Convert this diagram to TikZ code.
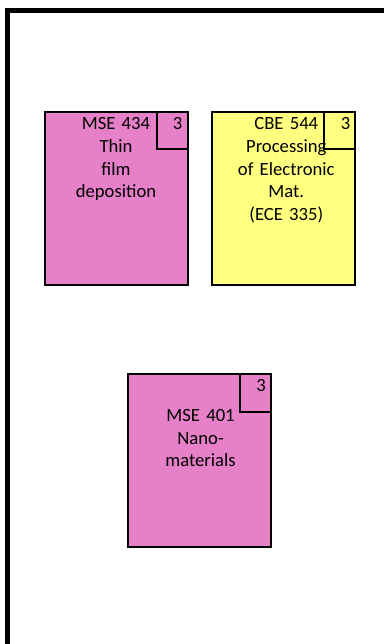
\documentclass[tikz,border=0pt]{standalone}
\usepackage{fontspec}
\setmainfont{Carlito}
\usetikzlibrary{positioning}

\definecolor{coursepink}{RGB}{230,128,200}
\definecolor{courseyellow}{RGB}{255,255,128}

\tikzset{every picture/.style={line width=0.75pt}}
\tikzset{
  course/.style={draw, line width=1.5pt, outer sep=0pt, inner sep=0pt,
    minimum width=107.25pt, minimum height=129.75pt},
  credit/.style={draw, line width=1.5pt, outer sep=0pt, inner sep=0pt,
    minimum width=23.25pt, minimum height=28.1pt, anchor=north east},
  num/.style={inner sep=0pt, anchor=base east, font=\fontsize{14}{17}\selectfont},
  title/.style={inner sep=0pt, anchor=north, text width=100pt, align=center,
    font=\fontsize{14}{17}\selectfont}
}

\begin{document}
\begin{tikzpicture}[x=0.75pt,y=0.75pt,yscale=-1,xscale=1]
\useasboundingbox (0,0) rectangle (384,644);

%Straight Lines: frame
\draw [line width=3.75pt] (7.5,650) -- (7.5,10.8) -- (390,10.8) ;

%Shape: Rectangle
\node (mse434) [course, fill=coursepink] at (116,198.4) {};
\node (mse434cr) [credit] at (mse434.north east) {};
%Shape: Rectangle
\node (cbe544) [course, fill=courseyellow] at (283.9,198.5) {};
\node (cbe544cr) [credit] at (cbe544.north east) {};
%Shape: Rectangle
\node (mse401) [course, fill=coursepink] at (199.5,460.8) {};
\node (mse401cr) [credit] at (mse401.north east) {};

% Text Node
\node (mse434t) [title] at ([yshift=4pt]mse434.north) {MSE 434\\Thin\\film\\deposition};
\node (mse434n) [num] at ([xshift=-3.5pt,yshift=13pt]mse434.north east) {3};
% Text Node
\node (cbe544t) [title] at ([xshift=1.8pt,yshift=4pt]cbe544.north) {CBE 544\\Processing\\of Electronic\\Mat.\\(ECE 335)};
\node (cbe544n) [num] at ([xshift=-3.5pt,yshift=13pt]cbe544.north east) {3};
% Text Node
\node (mse401t) [title] at ([xshift=0.8pt,yshift=26pt]mse401.north) {MSE 401\\Nano-\\materials};
\node (mse401n) [num] at ([xshift=-3.5pt,yshift=13pt]mse401.north east) {3};

\end{tikzpicture}
\end{document}
